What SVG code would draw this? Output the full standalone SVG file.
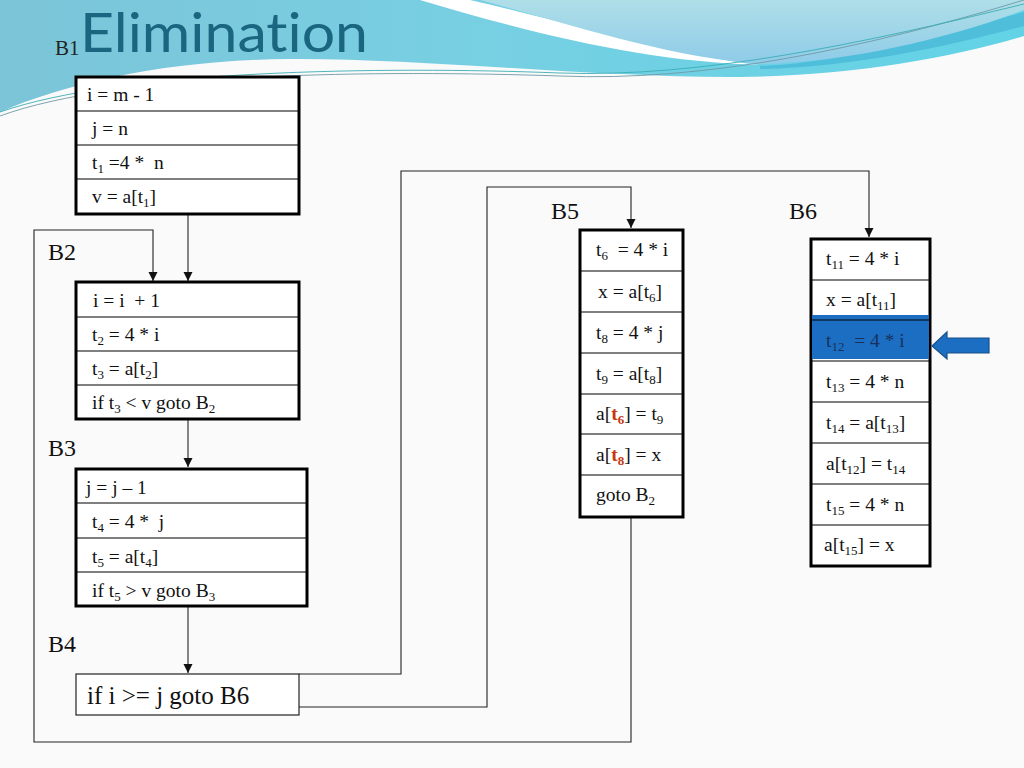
<svg xmlns="http://www.w3.org/2000/svg" width="1024" height="768" viewBox="0 0 1024 768">
<defs>
<linearGradient id="band" x1="0" y1="0" x2="1" y2="0">
<stop offset="0" stop-color="#7cc4d8"/>
<stop offset="0.45" stop-color="#78cfe2"/>
<stop offset="1" stop-color="#62d3e6"/>
</linearGradient>
<linearGradient id="upper" x1="0" y1="0" x2="0" y2="1">
<stop offset="0" stop-color="#afdfe8"/>
<stop offset="1" stop-color="#8ecbe8"/>
</linearGradient>
<marker id="ah" viewBox="0 0 10 10" refX="10" refY="5" markerWidth="9" markerHeight="10" markerUnits="userSpaceOnUse" orient="auto">
<path d="M0,0 L10,5 L0,10 Z" fill="#111"/>
</marker>
<style>
text { white-space: pre; font-variant-ligatures: none; }
.code { font-family: "Liberation Serif", "Times New Roman", serif; font-size: 19.5px; fill: #111; }
.sub { font-size: 13px; }
.lbl { font-family: "Liberation Serif", "Times New Roman", serif; font-size: 24px; fill: #111; }
.box { fill: #ffffff; stroke: #000; stroke-width: 3; }
.row { stroke: #000; stroke-width: 1.2; }
.conn { fill: none; stroke: #222; stroke-width: 1.1; }
.red { fill: #c8380e; font-weight: bold; }
</style>
</defs>

<rect x="0" y="0" width="1024" height="768" fill="#fafafa"/>

<g id="background">
<path d="M0,0 H1024 V36 C950,58 850,76 740,77 C600,78 420,58 290,59 C170,60 70,82 0,112 Z" fill="url(#band)"/>
<path d="M760,66 C850,62 950,32 1024,12 L1024,26 C950,46 850,68 760,69 Z" fill="#4fbedb"/>
<path d="M470,0 C560,20 680,56 760,65 C650,62 540,36 420,0 Z" fill="#ffffff"/>
<path d="M480,0 L1024,0 L1024,10 C950,38 850,62 762,64 C670,58 570,24 480,0 Z" fill="url(#upper)"/>
<path d="M0,116 C120,72 380,70 560,76 C700,82 860,50 1024,0" fill="none" stroke="#6f9aa6" stroke-width="0.9"/>
<path d="M0,112 C120,70 380,66 560,73 C700,78 860,44 1024,4" fill="none" stroke="#3aaeb4" stroke-width="0.9"/>
</g>

<g id="title">
<text x="55" y="55" font-family="Liberation Serif, serif" font-size="21" fill="#222">B1</text>
<text x="80" y="52" font-family="Lato, 'Open Sans', sans-serif" font-size="55" fill="#1a6580" textLength="288" lengthAdjust="spacingAndGlyphs">Elimination</text>
</g>

<g id="connectors">
<path class="conn" d="M188,214 V281" marker-end="url(#ah)"/>
<path class="conn" d="M631,516 V742 H34 V230 H153 V281" marker-end="url(#ah)"/>
<path class="conn" d="M188,419 V467" marker-end="url(#ah)"/>
<path class="conn" d="M188,606 V673" marker-end="url(#ah)"/>
<path class="conn" d="M299,674 H401 V171 H869 V237" marker-end="url(#ah)"/>
<path class="conn" d="M299,707 H487 V187 H631 V228" marker-end="url(#ah)"/>
</g>

<g id="B1">
<rect class="box" x="76" y="77" width="223" height="137"/>
<line class="row" x1="76" y1="111" x2="299" y2="111"/>
<line class="row" x1="76" y1="145" x2="299" y2="145"/>
<line class="row" x1="76" y1="179" x2="299" y2="179"/>
<text class="code" x="87" y="101">i = m - 1</text>
<text class="code" x="92" y="135">j = n</text>
<text class="code" x="92" y="169">t<tspan class="sub" dy="4">1</tspan><tspan dy="-4"> =4 *  n</tspan></text>
<text class="code" x="92" y="203">v = a[t<tspan class="sub" dy="4">1</tspan><tspan dy="-4">]</tspan></text>
</g>

<g id="B2">
<text class="lbl" x="48" y="260">B2</text>
<rect class="box" x="76" y="282" width="223" height="137"/>
<line class="row" x1="76" y1="317" x2="299" y2="317"/>
<line class="row" x1="76" y1="351" x2="299" y2="351"/>
<line class="row" x1="76" y1="385" x2="299" y2="385"/>
<text class="code" x="93" y="307">i = i  + 1</text>
<text class="code" x="92" y="341">t<tspan class="sub" dy="4">2</tspan><tspan dy="-4"> = 4 * i</tspan></text>
<text class="code" x="92" y="375">t<tspan class="sub" dy="4">3</tspan><tspan dy="-4"> = a[t</tspan><tspan class="sub" dy="4">2</tspan><tspan dy="-4">]</tspan></text>
<text class="code" x="92" y="409">if t<tspan class="sub" dy="4">3</tspan><tspan dy="-4"> &lt; v goto B</tspan><tspan class="sub" dy="4">2</tspan></text>
</g>

<g id="B3">
<text class="lbl" x="48" y="456">B3</text>
<rect class="box" x="76" y="469" width="231" height="137"/>
<line class="row" x1="76" y1="503" x2="307" y2="503"/>
<line class="row" x1="76" y1="538" x2="307" y2="538"/>
<line class="row" x1="76" y1="572" x2="307" y2="572"/>
<text class="code" x="86" y="494">j = j – 1</text>
<text class="code" x="92" y="528">t<tspan class="sub" dy="4">4</tspan><tspan dy="-4"> = 4 *  j</tspan></text>
<text class="code" x="92" y="563">t<tspan class="sub" dy="4">5</tspan><tspan dy="-4"> = a[t</tspan><tspan class="sub" dy="4">4</tspan><tspan dy="-4">]</tspan></text>
<text class="code" x="92" y="597">if t<tspan class="sub" dy="4">5</tspan><tspan dy="-4"> &gt; v goto B</tspan><tspan class="sub" dy="4">3</tspan></text>
</g>

<g id="B4">
<text class="lbl" x="48" y="652">B4</text>
<rect x="76" y="674" width="223" height="41" fill="#ffffff" stroke="#222" stroke-width="1.2"/>
<text x="87" y="704" font-family="Liberation Serif, serif" font-size="25" fill="#111">if i &gt;= j goto B6</text>
</g>

<g id="B5">
<text class="lbl" x="551" y="219">B5</text>
<rect class="box" x="580" y="230" width="103" height="287"/>
<line class="row" x1="580" y1="271" x2="683" y2="271"/>
<line class="row" x1="580" y1="312" x2="683" y2="312"/>
<line class="row" x1="580" y1="353" x2="683" y2="353"/>
<line class="row" x1="580" y1="394" x2="683" y2="394"/>
<line class="row" x1="580" y1="434" x2="683" y2="434"/>
<line class="row" x1="580" y1="475" x2="683" y2="475"/>
<text class="code" x="596" y="256">t<tspan class="sub" dy="4">6</tspan><tspan dy="-4">  = 4 * i</tspan></text>
<text class="code" x="598" y="298">x = a[t<tspan class="sub" dy="4">6</tspan><tspan dy="-4">]</tspan></text>
<text class="code" x="596" y="339">t<tspan class="sub" dy="4">8</tspan><tspan dy="-4"> = 4 * j</tspan></text>
<text class="code" x="596" y="380">t<tspan class="sub" dy="4">9</tspan><tspan dy="-4"> = a[t</tspan><tspan class="sub" dy="4">8</tspan><tspan dy="-4">]</tspan></text>
<text class="code" x="596" y="420">a[<tspan class="red">t</tspan><tspan class="red sub" dy="4">6</tspan><tspan dy="-4">] = t</tspan><tspan class="sub" dy="4">9</tspan></text>
<text class="code" x="596" y="461">a[<tspan class="red">t</tspan><tspan class="red sub" dy="4">8</tspan><tspan dy="-4">] = x</tspan></text>
<text class="code" x="596" y="501">goto B<tspan class="sub" dy="4">2</tspan></text>
</g>

<g id="B6">
<text class="lbl" x="789" y="219">B6</text>
<rect class="box" x="811" y="239" width="119" height="327"/>
<rect x="812" y="315" width="117" height="44" fill="#1c6ec2"/>
<line class="row" x1="811" y1="280" x2="930" y2="280"/>
<line class="row" x1="811" y1="320" x2="930" y2="320"/>
<line class="row" x1="811" y1="361" x2="930" y2="361"/>
<line class="row" x1="811" y1="402" x2="930" y2="402"/>
<line class="row" x1="811" y1="443" x2="930" y2="443"/>
<line class="row" x1="811" y1="484" x2="930" y2="484"/>
<line class="row" x1="811" y1="525" x2="930" y2="525"/>
<text class="code" x="826" y="265">t<tspan class="sub" dy="4">11</tspan><tspan dy="-4"> = 4 * i</tspan></text>
<text class="code" x="826" y="306">x = a[t<tspan class="sub" dy="4">11</tspan><tspan dy="-4">]</tspan></text>
<text class="code" x="826" y="347" style="fill:#16325c">t<tspan class="sub" dy="4">12</tspan><tspan dy="-4">  = 4 * i</tspan></text>
<text class="code" x="826" y="388">t<tspan class="sub" dy="4">13</tspan><tspan dy="-4"> = 4 * n</tspan></text>
<text class="code" x="826" y="429">t<tspan class="sub" dy="4">14</tspan><tspan dy="-4"> = a[t</tspan><tspan class="sub" dy="4">13</tspan><tspan dy="-4">]</tspan></text>
<text class="code" x="826" y="470">a[t<tspan class="sub" dy="4">12</tspan><tspan dy="-4">] = t</tspan><tspan class="sub" dy="4">14</tspan></text>
<text class="code" x="826" y="511">t<tspan class="sub" dy="4">15</tspan><tspan dy="-4"> = 4 * n</tspan></text>
<text class="code" x="824" y="551">a[t<tspan class="sub" dy="4">15</tspan><tspan dy="-4">] = x</tspan></text>
</g>

<g id="pointer">
<path d="M932,346 L947,332 L947,338 L989,338 L989,353 L947,353 L947,359 Z" fill="#1c6ec2" stroke="#1a4f8a" stroke-width="1.2"/>
</g>
</svg>
